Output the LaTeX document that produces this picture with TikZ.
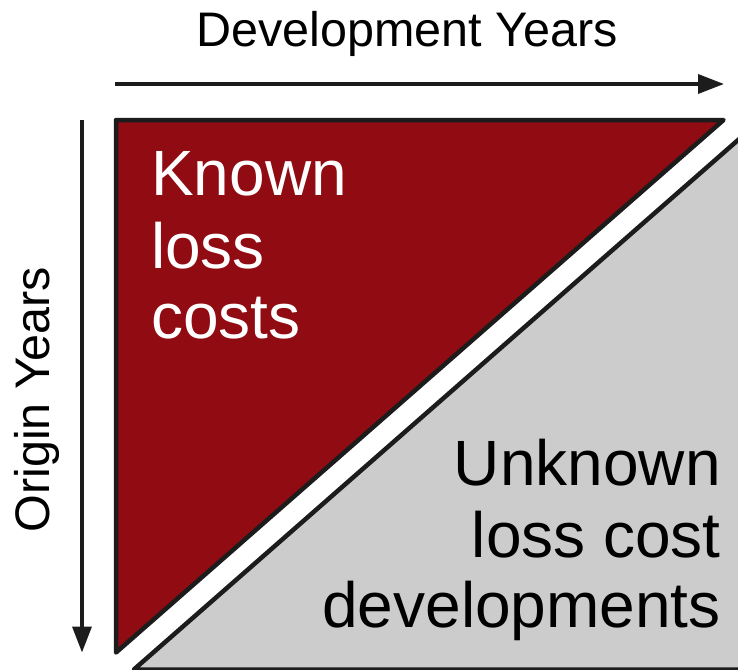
\documentclass[tikz,border=0pt]{standalone}
\usepackage{fontspec}
\setmainfont{Liberation Sans}
\usetikzlibrary{arrows.meta}
\definecolor{lossred}{HTML}{900C12}
\definecolor{pendgray}{HTML}{CCCCCC}
\definecolor{edgedark}{HTML}{1C1C1C}

\begin{document}
\begin{tikzpicture}[x=1pt,y=-1pt,
  axis/.style={draw=edgedark, line width=3.6pt, -{Triangle[length=26pt,width=19pt]}},
  block/.style={draw=edgedark, line width=4.5pt, line join=round},
  axislabel/.style={font=\fontsize{48.5}{56}\selectfont, inner sep=0pt},
  blocktext/.style={font=\fontsize{64}{72}\selectfont, inner sep=0pt}]
\useasboundingbox (0,0) rectangle (738,669);
\fill[white] (0,0) rectangle (738,669);

% unknown part of the triangle, running off the lower right edge
\begin{scope}
  \clip (0,0) rectangle (738,669);
  \draw[block, fill=pendgray] (133.9,669.5) -- (770,112) -- (770,669.5) -- cycle;
\end{scope}

% known part of the triangle
\draw[block, fill=lossred] (116,120) -- (723.5,120) -- (116,652.5) -- cycle;

% axes
\coordinate (devstart) at (115,84);
\coordinate (devend) at (724,84);
\coordinate (origstart) at (82,120);
\coordinate (origend) at (82,652.5);
\draw[axis] (devstart) -- (devend);
\draw[axis] (origstart) -- (origend);

\node[axislabel, anchor=base] (devlabel) at (407,47) {Development Years};
\node[axislabel, anchor=base, rotate=90] (originlabel) at (49,400) {Origin Years};

\node[blocktext, text=white, anchor=base west] (known1) at (151,195) {Known};
\node[blocktext, text=white, anchor=base west] (known2) at (151,268) {loss};
\node[blocktext, text=white, anchor=base west] (known3) at (151,338) {costs};

\node[blocktext, anchor=base east] (unknown1) at (721,485) {Unknown};
\node[blocktext, anchor=base east] (unknown2) at (721,557) {loss cost};
\node[blocktext, anchor=base east] (unknown3) at (721,627) {developments};
\end{tikzpicture}
\end{document}
